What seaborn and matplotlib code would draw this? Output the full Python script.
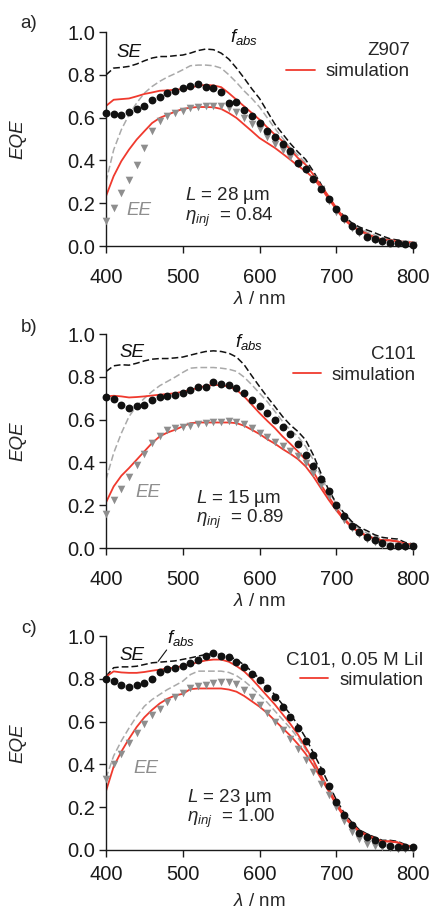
import matplotlib
matplotlib.use("Agg")
import matplotlib.pyplot as plt
import pandas as pd
import seaborn as sns

# Wavelength grid (nm)
wavelength = list(range(400, 801, 10))

# ---- a) Z907 ----
a_se_abs = [0.80, 0.832, 0.835, 0.84, 0.851, 0.866, 0.879, 0.886, 0.886, 0.89,
            0.893, 0.902, 0.914, 0.921, 0.918, 0.902, 0.874, 0.832, 0.785, 0.735,
            0.69, 0.63, 0.57, 0.525, 0.48, 0.44, 0.405, 0.35, 0.29, 0.226,
            0.179, 0.140, 0.109, 0.089, 0.075, 0.062, 0.047, 0.034, 0.028, 0.019,
            0.012]
a_ee_abs = [0.30, 0.45, 0.544, 0.614, 0.669, 0.715, 0.746, 0.770, 0.790, 0.806,
            0.824, 0.843, 0.846, 0.846, 0.843, 0.832, 0.801, 0.765, 0.725, 0.69,
            0.65, 0.60, 0.55, 0.505, 0.46, 0.425, 0.39, 0.34, 0.28, 0.22,
            0.171, 0.132, 0.104, 0.081, 0.065, 0.051, 0.039, 0.031, 0.023, 0.016,
            0.011]
a_se_eqe = [0.622, 0.619, 0.613, 0.628, 0.639, 0.653, 0.684, 0.697, 0.715, 0.723,
            0.737, 0.750, 0.757, 0.743, 0.740, 0.718, 0.669, 0.672, 0.638, 0.606,
            0.575, 0.540, 0.508, 0.477, 0.443, 0.389, 0.358, 0.314, 0.269, 0.218,
            0.174, 0.131, 0.096, 0.070, 0.044, 0.031, 0.023, 0.016, 0.012, 0.008,
            0.006]
a_ee_eqe = [0.115, 0.177, 0.248, 0.31, 0.38, 0.46, 0.54, 0.585, 0.61, 0.622,
            0.633, 0.645, 0.652, 0.656, 0.656, 0.656, 0.645, 0.625, 0.60, 0.57,
            0.545, 0.51, 0.478, 0.447, 0.416, 0.385, 0.355, 0.315, 0.265, 0.21,
            0.16, 0.12, 0.085, 0.06, 0.04, 0.028, 0.02, 0.014, 0.01, 0.008,
            0.006]
a_se_sim = [0.655, 0.684, 0.687, 0.69, 0.70, 0.711, 0.718, 0.726, 0.728, 0.731,
            0.734, 0.74, 0.75, 0.753, 0.751, 0.743, 0.715, 0.684, 0.653, 0.622,
            0.591, 0.555, 0.521, 0.49, 0.451, 0.412, 0.381, 0.334, 0.283, 0.233,
            0.179, 0.132, 0.096, 0.073, 0.058, 0.042, 0.031, 0.028, 0.023, 0.019,
            0.016]
a_ee_sim = [0.233, 0.327, 0.397, 0.451, 0.498, 0.537, 0.575, 0.599, 0.614, 0.628,
            0.641, 0.647, 0.65, 0.65, 0.649, 0.641, 0.622, 0.599, 0.568, 0.537,
            0.505, 0.482, 0.459, 0.432, 0.404, 0.376, 0.35, 0.319, 0.272, 0.221,
            0.171, 0.124, 0.093, 0.073, 0.054, 0.039, 0.031, 0.026, 0.022, 0.017,
            0.016]

# ---- b) C101 ----
b_se_abs = [0.825, 0.852, 0.857, 0.855, 0.864, 0.875, 0.883, 0.886, 0.886, 0.889,
            0.893, 0.902, 0.911, 0.919, 0.922, 0.919, 0.911, 0.893, 0.857, 0.805,
            0.755, 0.707, 0.662, 0.615, 0.576, 0.545, 0.506, 0.436, 0.350, 0.273,
            0.210, 0.164, 0.125, 0.097, 0.081, 0.062, 0.050, 0.045, 0.042, 0.026,
            0.019]
b_ee_abs = [0.32, 0.444, 0.537, 0.615, 0.665, 0.70, 0.732, 0.759, 0.779, 0.799,
            0.821, 0.841, 0.844, 0.844, 0.844, 0.841, 0.836, 0.826, 0.799, 0.763,
            0.724, 0.685, 0.639, 0.592, 0.553, 0.522, 0.475, 0.413, 0.335, 0.265,
            0.207, 0.156, 0.117, 0.089, 0.070, 0.055, 0.042, 0.036, 0.031, 0.020,
            0.016]
b_se_eqe = [0.704, 0.696, 0.67, 0.657, 0.665, 0.67, 0.693, 0.706, 0.709, 0.717,
            0.727, 0.74, 0.752, 0.755, 0.774, 0.768, 0.763, 0.748, 0.724, 0.693,
            0.665, 0.631, 0.60, 0.564, 0.533, 0.488, 0.433, 0.382, 0.322, 0.265,
            0.202, 0.148, 0.104, 0.075, 0.051, 0.036, 0.023, 0.011, 0.008, 0.008,
            0.008]
b_ee_eqe = [0.157, 0.224, 0.274, 0.33, 0.388, 0.44, 0.49, 0.525, 0.551, 0.559,
            0.567, 0.572, 0.578, 0.585, 0.588, 0.591, 0.593, 0.590, 0.581, 0.561,
            0.540, 0.519, 0.498, 0.475, 0.452, 0.428, 0.397, 0.350, 0.296, 0.241,
            0.187, 0.132, 0.093, 0.065, 0.042, 0.026, 0.016, 0.008, 0.008, 0.006,
            0.006]
b_se_sim = [0.709, 0.712, 0.709, 0.704, 0.706, 0.709, 0.713, 0.717, 0.72, 0.724,
            0.731, 0.74, 0.748, 0.759, 0.762, 0.762, 0.755, 0.74, 0.709, 0.67,
            0.631, 0.595, 0.561, 0.522, 0.488, 0.452, 0.413, 0.358, 0.296, 0.241,
            0.187, 0.14, 0.101, 0.075, 0.058, 0.045, 0.036, 0.036, 0.031, 0.02,
            0.016]
b_ee_sim = [0.213, 0.288, 0.338, 0.374, 0.413, 0.452, 0.491, 0.522, 0.54, 0.553,
            0.569, 0.584, 0.587, 0.587, 0.587, 0.587, 0.587, 0.584, 0.572, 0.553,
            0.533, 0.509, 0.488, 0.463, 0.441, 0.416, 0.382, 0.335, 0.28, 0.226,
            0.176, 0.132, 0.097, 0.073, 0.055, 0.044, 0.036, 0.036, 0.03, 0.019,
            0.014]

# ---- c) C101, 0.05 M LiI ----
c_se_abs = [0.812, 0.852, 0.856, 0.856, 0.859, 0.867, 0.875, 0.878, 0.881, 0.884,
            0.891, 0.898, 0.906, 0.914, 0.917, 0.914, 0.905, 0.89, 0.865, 0.835,
            0.80, 0.765, 0.725, 0.68, 0.635, 0.585, 0.525, 0.455, 0.385, 0.31,
            0.235, 0.175, 0.13, 0.095, 0.075, 0.06, 0.045, 0.045, 0.04, 0.025,
            0.015]
c_ee_abs = [0.336, 0.44, 0.51, 0.57, 0.625, 0.672, 0.703, 0.727, 0.75, 0.769,
            0.789, 0.82, 0.836, 0.836, 0.836, 0.836, 0.83, 0.815, 0.79, 0.76,
            0.725, 0.69, 0.65, 0.61, 0.57, 0.525, 0.47, 0.41, 0.345, 0.28,
            0.215, 0.16, 0.12, 0.09, 0.07, 0.055, 0.042, 0.04, 0.035, 0.02,
            0.012]
c_se_eqe = [0.80, 0.79, 0.77, 0.76, 0.77, 0.78, 0.80, 0.83, 0.845, 0.853,
            0.862, 0.875, 0.89, 0.905, 0.92, 0.906, 0.90, 0.88, 0.855, 0.825,
            0.795, 0.755, 0.715, 0.67, 0.62, 0.57, 0.51, 0.445, 0.37, 0.30,
            0.225, 0.165, 0.115, 0.08, 0.06, 0.045, 0.03, 0.02, 0.015, 0.012,
            0.012]
c_ee_eqe = [0.33, 0.40, 0.45, 0.50, 0.545, 0.59, 0.63, 0.66, 0.69, 0.715,
            0.735, 0.755, 0.765, 0.77, 0.78, 0.785, 0.785, 0.775, 0.75, 0.715,
            0.68, 0.64, 0.60, 0.56, 0.52, 0.47, 0.42, 0.365, 0.31, 0.255,
            0.20, 0.135, 0.085, 0.05, 0.03, 0.02, 0.012, 0.008, 0.006, 0.005,
            0.005]
c_se_sim = [0.81, 0.835, 0.83, 0.828, 0.828, 0.832, 0.838, 0.843, 0.848, 0.853,
            0.86, 0.868, 0.878, 0.886, 0.89, 0.89, 0.88, 0.86, 0.835, 0.80,
            0.76, 0.72, 0.68, 0.635, 0.59, 0.54, 0.48, 0.42, 0.35, 0.285,
            0.22, 0.165, 0.12, 0.09, 0.07, 0.055, 0.04, 0.04, 0.035, 0.02,
            0.015]
c_ee_sim = [0.275, 0.39, 0.46, 0.52, 0.575, 0.62, 0.655, 0.685, 0.707, 0.722,
            0.73, 0.752, 0.755, 0.755, 0.755, 0.755, 0.75, 0.74, 0.72, 0.695,
            0.67, 0.64, 0.605, 0.57, 0.535, 0.495, 0.45, 0.395, 0.335, 0.275,
            0.21, 0.155, 0.115, 0.085, 0.065, 0.05, 0.04, 0.04, 0.035, 0.02,
            0.015]

dye_labels = ["Z907", "C101", "C101, 0.05 M LiI"]
diffusion_lengths = ["28", "15", "23"]
injection_eff = ["0.84", "0.89", "1.00"]
panel_tags = ["a)", "b)", "c)"]
x_ticks = [400, 500, 600, 700, 800]
y_ticks = [0.0, 0.2, 0.4, 0.6, 0.8, 1.0]

series = [
    (a_se_abs, a_ee_abs, a_se_eqe, a_ee_eqe, a_se_sim, a_ee_sim),
    (b_se_abs, b_ee_abs, b_se_eqe, b_ee_eqe, b_se_sim, b_ee_sim),
    (c_se_abs, c_ee_abs, c_se_eqe, c_ee_eqe, c_se_sim, c_ee_sim),
]

# ---- styling ----
sns.set_style("ticks")
plt.rcParams["font.family"] = ["Liberation Sans", "DejaVu Sans"]
plt.rcParams["mathtext.fontset"] = "custom"
plt.rcParams["mathtext.rm"] = "Liberation Sans"
plt.rcParams["mathtext.it"] = "Liberation Sans:italic"
plt.rcParams["mathtext.bf"] = "Liberation Sans:bold"
plt.rcParams["axes.edgecolor"] = "#1a1a1a"
plt.rcParams["xtick.color"] = "#1a1a1a"
plt.rcParams["ytick.color"] = "#1a1a1a"

BLACK = "#111111"
GREY_LINE = "#a9a9a9"
GREY_MARK = "#8e8e8e"
RED = "#f03a2e"
FS_TICK = 14.5
FS_TEXT = 13.5
DASH = (0, (4.4, 2.0))

# layout of the three stacked axes (figure fractions)
left, width = 0.2465, 0.714
bottoms = [0.7314, 0.4017, 0.0721]
height = 0.2335

# annotation placement per panel (data coordinates)
se_pos = [(414, 0.885), (418, 0.891), (418, 0.89)]
fabs_pos = [(561, 0.955), (568, 0.941), (479, 0.969)]
ee_pos = [(427, 0.145), (438, 0.237), (436, 0.36)]
param_x = [503, 517, 505]
param_y = [(0.215, 0.118), (0.209, 0.118), (0.226, 0.133)]
legend_anchor = [(0.99, 0.952), (1.01, 0.946), (1.035, 0.93)]
tag_y = [0.974, 0.642, 0.314]
xtick_pad = [11, 11, 6]
xlabel_pad = [3, 3, 6.5]

fig = plt.figure(figsize=(4.3, 9.16), dpi=100)

for i, (se_abs, ee_abs, se_eqe, ee_eqe, se_sim, ee_sim) in enumerate(series):
    ax = fig.add_axes([left, bottoms[i], width, height])
    df = pd.DataFrame({
        "wl": wavelength, "se_abs": se_abs, "ee_abs": ee_abs,
        "se_eqe": se_eqe, "ee_eqe": ee_eqe, "se_sim": se_sim, "ee_sim": ee_sim,
    })

    sns.lineplot(data=df, x="wl", y="ee_abs", ax=ax, color=GREY_LINE,
                 linewidth=1.1, linestyle=DASH, legend=False)
    sns.lineplot(data=df, x="wl", y="se_abs", ax=ax, color=BLACK,
                 linewidth=1.1, linestyle=DASH, legend=False)
    sns.lineplot(data=df, x="wl", y="ee_sim", ax=ax, color=RED,
                 linewidth=1.3, legend=False)
    sns.lineplot(data=df, x="wl", y="se_sim", ax=ax, color=RED,
                 linewidth=1.3, legend=False, label="simulation")
    sns.scatterplot(data=df, x="wl", y="ee_eqe", ax=ax, color=GREY_MARK,
                    marker="v", s=30, linewidth=0, legend=False, clip_on=False,
                    zorder=3)
    sns.scatterplot(data=df, x="wl", y="se_eqe", ax=ax, color=BLACK,
                    marker="o", s=32, linewidth=0, legend=False, clip_on=False,
                    zorder=4)

    ax.set_xlim(400, 800)
    ax.set_ylim(0, 1.0)
    ax.set_xticks(x_ticks)
    ax.set_yticks(y_ticks)
    ax.set_yticklabels([f"{v:.1f}" for v in y_ticks])
    sns.despine(ax=ax)
    for sp in ("left", "bottom"):
        ax.spines[sp].set_linewidth(1.0)
    ax.tick_params(axis="both", direction="out", length=5, width=1.0,
                   labelsize=FS_TICK)
    ax.tick_params(axis="x", pad=xtick_pad[i])
    ax.tick_params(axis="y", pad=2.5)

    ax.set_xlabel(r"$\lambda$ / nm", fontsize=FS_TEXT, labelpad=xlabel_pad[i])
    ax.set_ylabel("EQE", fontsize=FS_TEXT, fontstyle="italic")
    ax.yaxis.set_label_coords(-0.258, 0.5)

    ax.text(*se_pos[i], "SE", fontsize=FS_TEXT, fontstyle="italic",
            color=BLACK, ha="left", va="baseline")
    ax.text(*fabs_pos[i], r"$f_{abs}$", fontsize=FS_TEXT, color=BLACK,
            ha="left", va="baseline")
    ax.text(*ee_pos[i], "EE", fontsize=FS_TEXT, fontstyle="italic",
            color=GREY_MARK, ha="left", va="baseline")
    ax.text(param_x[i], param_y[i][0], rf"$L$ = {diffusion_lengths[i]} µm",
            fontsize=FS_TEXT, ha="left", va="baseline")
    ax.text(param_x[i], param_y[i][1], rf"$\eta_{{inj}}$  = {injection_eff[i]}",
            fontsize=FS_TEXT, ha="left", va="baseline")
    if i == 2:
        ax.plot([479, 468], [0.935, 0.882], color=BLACK, linewidth=0.8)

    handles, labels = ax.get_legend_handles_labels()
    keep = [h for h, l in zip(handles, labels) if l == "simulation"]
    ax.legend(handles=keep, labels=["simulation"], title=dye_labels[i],
              loc="upper right", bbox_to_anchor=legend_anchor[i],
              frameon=False, fontsize=FS_TEXT, title_fontsize=FS_TEXT,
              handlelength=1.5, handletextpad=0.6, borderpad=0,
              borderaxespad=0, labelspacing=0.2, alignment="right")

    fig.text(0.067, tag_y[i], panel_tags[i], fontsize=FS_TEXT,
             ha="center", va="center")

fig.savefig("out.png", dpi=100)
